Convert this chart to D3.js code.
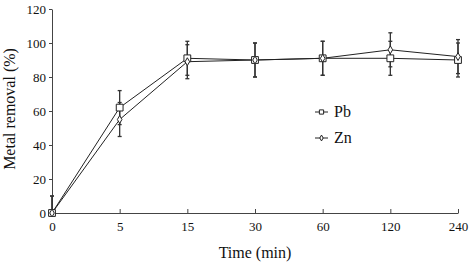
<!DOCTYPE html>
<html>
<head>
<meta charset="utf-8">
<script src="https://cdn.jsdelivr.net/npm/d3@7/dist/d3.min.js"></script>
<style>
  body { margin: 0; background: #fff; }
  svg { display: block; }
  svg text { font-family: 'Liberation Serif', 'Times New Roman', Times, serif; }
</style>
</head>
<body>
<div id="chart"></div>
<script>
var times = ["0", "5", "15", "30", "60", "120", "240"];
var yTicks = [0, 20, 40, 60, 80, 100, 120];
var pbValues = [0, 62, 91, 90, 91, 91, 90];
var pbErrors = [10, 10, 10, 10, 10, 10, 10];
var znValues = [0, 55, 89, 90, 91, 96, 92];
var znErrors = [10, 10, 10, 10, 10, 10, 10];

var serif = "'Liberation Serif', 'Times New Roman', Times, serif";

var totalWidth = 470,
    totalHeight = 262,
    mLeft = 52,
    mRight = 12,
    mTop = 9,
    mBottom = 49;

var width = totalWidth - mLeft - mRight,
    height = totalHeight - mTop - mBottom;

var svg = d3.select("#chart").append("svg")
    .attr("width", totalWidth)
    .attr("height", totalHeight)
    .attr("font-family", serif);

var g = svg.append("g").attr("transform", "translate(" + mLeft + "," + mTop + ")");

var xScale = d3.scalePoint().domain(times).range([0, width]);
var yScale = d3.scaleLinear().domain([0, 120]).range([height, 0]);

// axes
var xAxis = d3.axisBottom(xScale).tickSizeInner(-4).tickSizeOuter(0).tickPadding(9);
var yAxis = d3.axisLeft(yScale).tickValues(yTicks).tickSizeInner(3).tickSizeOuter(0).tickPadding(3);

var gx = g.append("g").attr("transform", "translate(0," + height + ")").call(xAxis);
var gy = g.append("g").call(yAxis);
[gx, gy].forEach(function(a) {
    a.attr("font-family", serif).attr("font-size", 13);
    a.selectAll("path, line").attr("stroke", "#444");
    a.selectAll("text").attr("fill", "#111");
});

// axis titles
g.append("text")
    .attr("x", width / 2)
    .attr("y", height + 45)
    .attr("text-anchor", "middle")
    .attr("font-family", serif)
    .attr("font-size", 16)
    .attr("fill", "#111")
    .text("Time (min)");

g.append("text")
    .attr("transform", "translate(" + (-37) + "," + (height / 2 - 2) + ") rotate(-90)")
    .attr("text-anchor", "middle")
    .attr("font-family", serif)
    .attr("font-size", 16)
    .attr("fill", "#111")
    .text("Metal removal (%)");

function rows(vals, errs) {
    return times.map(function(t, i) { return { t: t, v: vals[i], e: errs[i] }; });
}

var series = [
    { name: "Pb", data: rows(pbValues, pbErrors), symbol: d3.symbolSquare, size: 46, legendSize: 18 },
    { name: "Zn", data: rows(znValues, znErrors), symbol: d3.symbolDiamond, size: 18, legendSize: 10 }
];

var line = d3.line()
    .x(function(d) { return xScale(d.t); })
    .y(function(d) { return yScale(d.v); });

// error bars
series.forEach(function(s) {
    var eg = g.append("g").attr("class", "err");
    s.data.forEach(function(d) {
        var x = xScale(d.t),
            y1 = yScale(Math.min(120, d.v + d.e)),
            y0 = yScale(Math.max(0, d.v - d.e));
        eg.append("line").attr("x1", x).attr("x2", x).attr("y1", y1).attr("y2", y0)
            .attr("stroke", "#333").attr("stroke-width", 1.3);
        eg.append("line").attr("x1", x - 2).attr("x2", x + 2).attr("y1", y1).attr("y2", y1)
            .attr("stroke", "#333").attr("stroke-width", 1.3);
        if (d.v - d.e > 0) {
            eg.append("line").attr("x1", x - 2).attr("x2", x + 2).attr("y1", y0).attr("y2", y0)
                .attr("stroke", "#333").attr("stroke-width", 1.3);
        }
    });
});

// lines
series.forEach(function(s) {
    g.append("path")
        .datum(s.data)
        .attr("fill", "none")
        .attr("stroke", "#222")
        .attr("stroke-width", 1)
        .attr("d", line);
});

// markers
series.forEach(function(s) {
    g.append("g").selectAll("path")
        .data(s.data)
        .enter().append("path")
        .attr("transform", function(d) { return "translate(" + xScale(d.t) + "," + yScale(d.v) + ")"; })
        .attr("d", d3.symbol().type(s.symbol).size(s.size))
        .attr("fill", "#fff")
        .attr("stroke", "#222")
        .attr("stroke-width", 1);
});

// legend
var legend = g.append("g").attr("transform", "translate(" + (315 - mLeft) + "," + (112 - mTop) + ")");
series.forEach(function(s, i) {
    var lg = legend.append("g").attr("transform", "translate(0," + (i * 26) + ")");
    lg.append("line").attr("x1", 0).attr("x2", 13).attr("y1", 0).attr("y2", 0)
        .attr("stroke", "#222").attr("stroke-width", 1);
    lg.append("path")
        .attr("transform", "translate(6.5,0)")
        .attr("d", d3.symbol().type(s.symbol).size(s.legendSize))
        .attr("fill", "#fff").attr("stroke", "#222");
    lg.append("text")
        .attr("x", 19)
        .attr("y", 5)
        .attr("font-family", serif)
        .attr("font-size", 16)
        .attr("fill", "#111")
        .text(s.name);
});
</script>
</body>
</html>
